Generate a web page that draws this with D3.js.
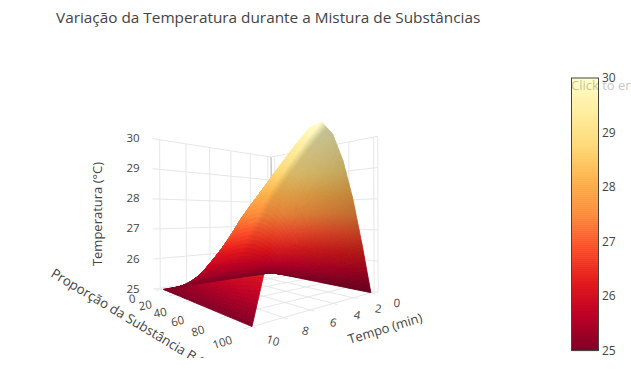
<!DOCTYPE html>
<html>
<head>
<meta charset="utf-8">
<script src="https://cdn.jsdelivr.net/npm/d3@7"></script>
<style>
html, body { margin: 0; padding: 0; background: #fff; overflow: hidden; }
text { font-family: "Open Sans", sans-serif; fill: #444; }
</style>
</head>
<body>
<div id="chart"></div>
<script>
var chartTitle = 'Variação da Temperatura durante a Mistura de Substâncias'
var timeTitle = 'Tempo (min)'
var proportionTitle = 'Proporção da Substância B (%)'
var temperatureTitle = 'Temperatura (°C)'

var timeTicks = [0, 2, 4, 6, 8, 10]
var proportionTicks = [0, 20, 40, 60, 80, 100]
var temperatureTicks = [25, 26, 27, 28, 29, 30]

var times = [0, 1, 2, 3, 4, 5, 6, 7, 8, 9, 10]
var proportions = [0, 10, 20, 30, 40, 50, 60, 70, 80, 90, 100]
// one row per time, one column per proportion
var temperatures = [
    [25, 25, 25, 25, 25, 25, 25, 25, 25, 25, 25],
    [25, 25.14, 25.31, 25.51, 25.70, 25.90, 26.05, 26.19, 26.32, 26.44, 26.55],
    [25, 25.27, 25.59, 25.97, 26.33, 26.71, 27.01, 27.27, 27.51, 27.74, 27.95],
    [25, 25.36, 25.81, 26.34, 26.82, 27.35, 27.75, 28.12, 28.44, 28.77, 29.05],
    [25, 25.43, 25.95, 26.57, 27.14, 27.76, 28.23, 28.66, 29.04, 29.42, 29.75],
    [25, 25.45, 26.00, 26.65, 27.25, 27.90, 28.40, 28.85, 29.25, 29.65, 30],
    [25, 25.43, 25.95, 26.57, 27.14, 27.76, 28.23, 28.66, 29.04, 29.42, 29.75],
    [25, 25.36, 25.81, 26.34, 26.82, 27.35, 27.75, 28.12, 28.44, 28.77, 29.05],
    [25, 25.27, 25.59, 25.97, 26.33, 26.71, 27.01, 27.27, 27.51, 27.74, 27.95],
    [25, 25.14, 25.31, 25.51, 25.70, 25.90, 26.05, 26.19, 26.32, 26.44, 26.55],
    [25, 25, 25, 25, 25, 25, 25, 25, 25, 25, 25]
]
var colorStops = ['rgb(128,0,38)', 'rgb(189,0,38)', 'rgb(227,26,28)', 'rgb(252,78,42)', 'rgb(253,141,60)', 'rgb(254,178,76)', 'rgb(254,217,118)', 'rgb(255,237,160)', 'rgb(255,255,204)']

var width = 631
var height = 379

var scaleT = d3.scaleLinear().domain([-0.4, 10.5]).range([0, 1])
var scaleB = d3.scaleLinear().domain([-5, 103]).range([0, 1])
var scaleZ = d3.scaleLinear().domain([25, 30]).range([0, 1])
var scaleColor = d3.scaleLinear()
    .domain(colorStops.map(function(d, i) { return 25 + 5 * i / (colorStops.length - 1) }))
    .range(colorStops)
var scaleBar = d3.scaleLinear().domain([25, 30]).range([350.5, 78])

// camera, fitted on the box corners seen in the scene: [u, v, w, screenX, screenY]
var boxCorners = [
    [0, 0, 0, 272, 272],
    [1, 0, 0, 152, 287],
    [1, 1, 0, 250, 332],
    [0, 1, 0, 377, 293],
    [0, 0, 1, 272, 157],
    [1, 0, 1, 152, 140],
    [0, 1, 1, 377, 135]
]

var solveCamera = function(corners) {
    var rows = []
    corners.forEach(function(c) {
        rows.push([c[0], c[1], c[2], 1, 0, 0, 0, 0, -c[3] * c[0], -c[3] * c[1], -c[3] * c[2], c[3]])
        rows.push([0, 0, 0, 0, c[0], c[1], c[2], 1, -c[4] * c[0], -c[4] * c[1], -c[4] * c[2], c[4]])
    })
    var n = 11
    var m = d3.range(n).map(function(i) {
        return d3.range(n + 1).map(function(j) {
            return d3.sum(rows, function(r) { return r[i] * r[j] })
        })
    })
    for (var i = 0; i < n; i++) {
        var p = i
        for (var r = i + 1; r < n; r++) {
            if (Math.abs(m[r][i]) > Math.abs(m[p][i])) p = r
        }
        var tmp = m[i]; m[i] = m[p]; m[p] = tmp
        for (var k = 0; k < n; k++) {
            if (k === i) continue
            var f = m[k][i] / m[i][i]
            for (var j = i; j <= n; j++) m[k][j] -= f * m[i][j]
        }
    }
    return m.map(function(row, i) { return row[n] / row[i] })
}

var cam = solveCamera(boxCorners)

var project = function(t, b, z) {
    var u = scaleT(t), v = scaleB(b), w = scaleZ(z)
    var d = cam[8] * u + cam[9] * v + cam[10] * w + 1
    return [
        (cam[0] * u + cam[1] * v + cam[2] * w + cam[3]) / d,
        (cam[4] * u + cam[5] * v + cam[6] * w + cam[7]) / d
    ]
}

var svg = d3.select('#chart').append('svg')
    .attr('width', width)
    .attr('height', height)
    .style('display', 'block')

svg.append('defs').append('clipPath').attr('id', 'scene-clip')
    .append('rect').attr('width', width).attr('height', 358)

var panel = svg.append('g').attr('class', 'scene')
var line = d3.line()

var segment = function(a, b, color, size) {
    panel.append('path')
        .attr('d', line([project.apply(null, a), project.apply(null, b)]))
        .attr('fill', 'none')
        .attr('stroke', color || '#e7e7e7')
        .attr('stroke-width', size || 1)
}

var tMin = scaleT.domain()[0], tMax = scaleT.domain()[1]
var bMin = scaleB.domain()[0], bMax = scaleB.domain()[1]

timeTicks.forEach(function(t) {
    segment([t, bMin, 25], [t, bMax, 25])
    segment([t, bMin, 25], [t, bMin, 30])
})
proportionTicks.forEach(function(b) {
    segment([tMin, b, 25], [tMax, b, 25])
    segment([tMin, b, 25], [tMin, b, 30])
})
temperatureTicks.forEach(function(z) {
    segment([tMax, bMin, z], [tMin, bMin, z])
    segment([tMin, bMin, z], [tMin, bMax, z])
})
segment([tMin, bMin, 25], [tMin, bMin, 30], '#c4c4c4', 1.4)
segment([tMin, bMax, 25], [tMin, bMax, 30])

// surface, back to front the way the scene stacks it: late times first
var stepsT = 16
var stepsB = 4
var surface = panel.append('g').attr('class', 'surface')

var shade = function(t, b) {
    if (t >= 5) return 1
    return 1 - 0.24 * Math.pow(b / 100, 1.2) * Math.min(1, (5 - t) / 0.5)
}

for (var ti = times.length - 2; ti >= 0; ti--) {
    for (var bi = 0; bi < proportions.length - 1; bi++) {
        for (var si = stepsT - 1; si >= 0; si--) {
            for (var sj = 0; sj < stepsB; sj++) {
                var corner = function(a, c) {
                    var fa = (si + a) / stepsT, fc = (sj + c) / stepsB
                    var z0 = temperatures[ti][bi] * (1 - fc) + temperatures[ti][bi + 1] * fc
                    var z1 = temperatures[ti + 1][bi] * (1 - fc) + temperatures[ti + 1][bi + 1] * fc
                    return {
                        t: times[ti] + fa * (times[ti + 1] - times[ti]),
                        b: proportions[bi] + fc * (proportions[bi + 1] - proportions[bi]),
                        z: z0 * (1 - fa) + z1 * fa
                    }
                }
                var cell = [corner(0, 0), corner(1, 0), corner(1, 1), corner(0, 1)]
                var pts = cell.map(function(d) { return project(d.t, d.b, d.z) })
                var meanZ = d3.mean(cell, function(d) { return d.z })
                var k = shade(d3.mean(cell, function(d) { return d.t }), d3.mean(cell, function(d) { return d.b }))
                var base = d3.rgb(scaleColor(meanZ))
                var fill = d3.rgb(base.r * k, base.g * k, base.b * k).formatRgb()
                surface.append('path')
                    .attr('d', line(pts) + 'Z')
                    .attr('fill', fill)
                    .attr('stroke', fill)
                    .attr('stroke-width', 0.8)
            }
        }
    }
}

// axis labels of the scene
var labels = svg.append('g').attr('class', 'labels').style('font-size', '11.5px')

var sceneLabel = function(p, txt, angle) {
    labels.append('text')
        .attr('text-anchor', 'middle')
        .attr('dominant-baseline', 'central')
        .attr('transform', 'translate(' + [p[0], p[1]] + ') rotate(' + (angle || 0) + ')')
        .text(txt)
}

timeTicks.forEach(function(t) {
    var p = project(t, bMax, 25)
    sceneLabel([p[0] + 22 - t * 0.5, p[1] + 9 + t * 0.3], t, 5 + t * 1.2)
})
proportionTicks.forEach(function(b) {
    var p = project(tMax, b, 25)
    sceneLabel([p[0] - 24 + b * 0.03, p[1] + 8 + b * 0.05], b, -8 - b * 0.1)
})
temperatureTicks.forEach(function(z) {
    var p = project(tMax, bMin, z)
    sceneLabel([133, p[1] - 1], z, 0)
})

svg.append('text')
    .attr('transform', 'translate(385,328) rotate(-17)')
    .attr('text-anchor', 'middle')
    .attr('dominant-baseline', 'central')
    .style('font-size', '13px')
    .text(timeTitle)

svg.append('g').attr('clip-path', 'url(#scene-clip)')
    .append('text')
    .attr('transform', 'translate(50,276) rotate(31)')
    .style('font-size', '13.3px')
    .text(proportionTitle)

svg.append('text')
    .attr('transform', 'translate(97,214) rotate(-90)')
    .attr('text-anchor', 'middle')
    .attr('dominant-baseline', 'central')
    .style('font-size', '13px')
    .text(temperatureTitle)

// colorbar
var bar = svg.append('g').attr('class', 'colorbar')
var barValues = d3.range(0, 136).map(function(i) { return 25 + 5 * i / 136 })
bar.selectAll('rect.swatch')
    .data(barValues)
    .enter().append('rect')
    .attr('class', 'swatch')
    .attr('x', 571.5)
    .attr('width', 27)
    .attr('y', function(d) { return scaleBar(d + 5 / 136) })
    .attr('height', function(d) { return scaleBar(d) - scaleBar(d + 5 / 136) + 0.6 })
    .attr('fill', function(d) { return scaleColor(d) })

bar.append('rect')
    .attr('x', 571.5)
    .attr('y', 78)
    .attr('width', 27)
    .attr('height', 272.5)
    .attr('fill', 'none')
    .attr('stroke', '#444')

var axisBar = d3.axisRight(scaleBar).tickValues(temperatureTicks).tickSize(0).tickPadding(4).tickFormat(d3.format('d'))
var barAxis = bar.append('g').attr('transform', 'translate(598,0)').call(axisBar)
barAxis.select('.domain').remove()
barAxis.selectAll('text').style('font-size', '12px').style('font-family', '"Open Sans", sans-serif').style('fill', '#444')

svg.append('text')
    .attr('x', 571)
    .attr('y', 90)
    .style('font-size', '13px')
    .style('fill', '#444')
    .style('opacity', 0.3)
    .text('Click to enter Colorscale title')

svg.append('text')
    .attr('x', 56)
    .attr('y', 23)
    .style('font-size', '15.35px')
    .text(chartTitle)
</script>
</body>
</html>
